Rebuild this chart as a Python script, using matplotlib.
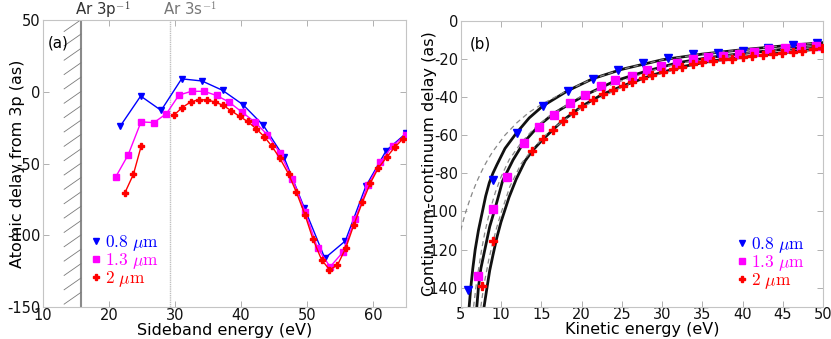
import numpy as np
import matplotlib
matplotlib.use("Agg")
import matplotlib.pyplot as plt
from matplotlib.lines import Line2D

plt.rcParams['font.family'] = ['DejaVu Sans']
plt.rcParams['mathtext.fontset'] = 'cm'
plt.rcParams['axes.unicode_minus'] = False

# ---------------- Panel (a): atomic delay vs sideband energy ----------------
a_blue_E = [21.7, 24.8, 27.9, 31.0, 34.1, 37.2, 40.3, 43.4, 46.5, 49.6, 52.7, 55.8, 58.9, 62.0, 65.0]
a_blue_y = [-24, -3, -13, 9, 7.5, 1, -9, -23.5, -45.5, -81, -116, -104, -66, -41, -29]

a_mag_E = [21.0, 22.9, 24.85, 26.8, 28.7, 30.6, 32.5, 34.4, 36.3, 38.2, 40.15, 42.1,
           44.0, 45.9, 47.8, 49.7, 51.6, 53.5, 55.4, 57.3, 59.2, 61.1, 63.0, 65.0]
a_mag_y = [-59.5, -44, -21, -21.5, -15.3, -2.3, 0.3, 0.3, -2.6, -7.2, -14.2, -21.1,
           -30, -42.7, -60.7, -83.5, -109, -122, -112, -88.6, -65.3, -49.3, -37.5, -30]

a_red_E1 = [22.4, 23.7, 24.9]
a_red_y1 = [-70.5, -57.5, -37.5]
a_red_E2 = [29.9, 31.1, 32.4, 33.6, 34.8, 36.1, 37.3, 38.5, 39.8, 41.0, 42.3, 43.5, 44.7, 45.9,
            47.2, 48.4, 49.7, 50.9, 52.2, 53.4, 54.6, 55.9, 57.1, 58.4, 59.6, 60.8, 62.1, 63.3, 64.5]
a_red_y2 = [-16, -11, -7, -5.6, -5.6, -7.2, -9.5, -13.2, -17.2, -20.7, -25.8, -31.2, -38.1, -46.5,
            -57.2, -70.2, -85.8, -102.7, -117, -124, -121, -108.6, -92.7, -76.9, -63.7, -53.2, -45.5, -38.6, -33]

ip_3p = 15.76
ip_3s = 29.24

# ---------------- Panel (b): continuum-continuum delay ----------------
b_blue_E = [5.9, 9.0, 12.0, 15.2, 18.3, 21.4, 24.5, 27.6, 30.7, 33.8, 36.9, 40.0, 43.1, 46.2, 49.2]
b_blue_y = [-141.5, -83.5, -59, -44.7, -36.7, -30.4, -25.9, -22.3, -19.7, -17.6, -16.8, -15.7, -14.2, -12.7, -11.5]

b_mag_E = [7.1, 9.0, 10.8, 12.8, 14.75, 16.6, 18.6, 20.4, 22.4, 24.2, 26.2, 28.1, 29.9, 31.9,
           33.8, 35.7, 37.6, 39.5, 41.4, 43.3, 45.2, 47.2, 49.1]
b_mag_y = [-133.7, -98.9, -81.8, -64, -55.6, -49.4, -43.3, -39.1, -34.2, -31.1, -29, -25.9, -23.8, -22.0,
           -20.2, -18.9, -18.4, -17.6, -16.3, -15.0, -14.5, -13.9, -13.3]

b_red_E = [7.7, 9.0, 13.9, 15.2, 16.4, 17.65, 18.9, 20.1, 21.4, 22.6, 23.9, 25.1, 26.3, 27.6, 28.8,
           30.1, 31.3, 32.5, 33.8, 35.0, 36.3, 37.5, 38.7, 40.0, 41.2, 42.5, 43.7, 44.9, 46.2, 47.4, 48.7, 49.9]
b_red_y = [-139, -115.5, -68.2, -62.2, -57.3, -52.4, -48.6, -44.7, -41.6, -38.6, -36.3, -34.2, -32.0, -30.2, -28.5,
           -26.7, -25.3, -24.1, -22.9, -21.8, -21.0, -20.2, -20.1, -19.2, -18.5, -18.0, -17.5, -16.8, -16.3, -15.7, -15.0, -14.5]

# theory curves (solid black)
cc_blue_E = [6.05, 6.25, 6.5, 6.8, 7.2, 7.7, 8.1, 8.55, 9.0, 9.5, 10.5, 11.9, 13.5, 15.2, 18.3, 21.4, 25, 30, 35, 40, 45, 50]
cc_blue_y = [-150, -140, -130, -120, -110, -100, -92, -85, -80, -75.5, -67, -59, -51, -44.7, -36.7, -30.4, -25.5, -20.5, -17.5, -15.2, -13.2, -11.5]
cc_mag_E = [7.0, 7.2, 7.5, 8.0, 8.6, 9.3, 10.2, 11.5, 12.8, 14.7, 16.6, 18.6, 20.4, 24.2, 28, 32, 36, 40, 45, 50]
cc_mag_y = [-150, -140, -130, -120, -108, -98, -84, -73, -64, -55, -48.5, -43.5, -39.1, -31.5, -26.5, -22, -19.2, -17.2, -15, -13]
cc_red_E = [7.9, 8.3, 8.6, 9.0, 9.5, 10.0, 11.0, 11.9, 13.0, 13.9, 15.2, 17.65, 20.1, 22.6, 25.1, 28.8, 32.5, 36.3, 40, 45, 50]
cc_red_y = [-150, -139, -131, -123, -113.5, -105.6, -92.6, -83, -73.5, -68.2, -62.2, -52.4, -44.7, -38.6, -34.2, -28.5, -24.1, -21, -19.2, -16.8, -14.5]

# theory curves (dashed grey)
d1_E = [5.0, 5.5, 6.0, 6.5, 7.0, 7.5, 8.0, 8.4, 9.0, 10.5, 12.0, 13.5, 15.2, 18.3, 21.4, 25, 30, 35, 40, 45, 50]
d1_y = [-110, -102, -95.5, -89.6, -84.4, -79.8, -75.6, -72.6, -68.5, -60, -53.4, -48, -43.5, -36.5, -30.4, -25.5, -20.5, -17.5, -15.2, -13.2, -11.5]
d2_E = [6.6, 6.8, 7.0, 7.3, 7.6, 8.0, 8.6, 9.3, 10.0, 11.0, 12.5, 14.0, 16.0, 20.0, 25, 30, 35, 40, 45, 50]
d2_y = [-150, -143, -136, -128, -120, -111, -100, -90, -82, -73, -64, -57, -50, -39.5, -31.5, -24.5, -20, -17.2, -15, -13]
d3_E = [7.5, 7.8, 8.0, 8.5, 9.0, 9.5, 10.0, 11.1, 12.5, 14.0, 16.0, 20.0, 25, 30, 35, 40, 45, 50]
d3_y = [-150, -141, -136, -125, -116, -108, -101, -87, -75, -67, -58, -45.5, -34.8, -27.5, -22.5, -19.5, -17, -14.8]

labels = ['$0.8\\ \\mu\\mathrm{m}$', '$1.3\\ \\mu\\mathrm{m}$', '$2\\ \\mu\\mathrm{m}$']
BLUE, MAG, RED = '#0000ff', '#ff00ff', '#ff0000'

fig = plt.figure(figsize=(8.31, 3.39), dpi=100)
axa = fig.add_axes([43/831, 1-307/339, (406-43)/831, (307-20)/339])
axb = fig.add_axes([460.7/831, 1-306.7/339, (823.3-460.7)/831, (306.7-20.7)/339])

def style(ax):
    for s in ax.spines.values():
        s.set_color('#c4c4c4')
        s.set_linewidth(0.8)
    ax.tick_params(direction='in', length=4, width=0.7, color='#b0b0b0',
                   labelsize=10.5, labelcolor='#111111', top=True, right=True)
    ax.tick_params(axis='x', pad=0.5)
    ax.tick_params(axis='y', pad=2)

# ---- (a)
style(axa)
axa.set_xlim(10, 65)
axa.set_ylim(-150, 50)
axa.set_xticks([10, 20, 30, 40, 50, 60])
axa.set_yticks([50, 0, -50, -100, -150])
axa.axvline(ip_3p, color='#8a8a8a', lw=1.5, zorder=1)
axa.axvline(ip_3s, color='#c0c0c0', lw=1.0, ls=(0, (1, 0.6)), zorder=1)
for y0 in np.arange(-148, 50, 10):
    axa.plot([13.2, ip_3p], [y0, y0 + 8.2], color='#7a7a7a', lw=0.6, clip_on=True, zorder=1)
axa.text(14.85, 53.1, 'Ar 3p$^{-1}$', color='#333333', fontsize=10.8, ha='left', va='baseline',
         clip_on=False)
axa.text(28.2, 53.1, 'Ar 3s$^{-1}$', color='#777777', fontsize=10.8, ha='left', va='baseline',
         clip_on=False)
axa.text(0.014, 0.945, '(a)', transform=axa.transAxes, fontsize=10.8, va='top', ha='left')

axa.plot(a_blue_E, a_blue_y, color=BLUE, lw=1.0, marker='v', ms=5, zorder=3)
axa.plot(a_mag_E, a_mag_y, color=MAG, lw=1.0, marker='s', ms=5, zorder=3)
axa.plot(a_red_E1, a_red_y1, color=RED, lw=1.0, marker='P', ms=5, zorder=4)
axa.plot(a_red_E2, a_red_y2, color=RED, lw=1.0, marker='P', ms=5, zorder=4)
axa.set_xlabel('Sideband energy (eV)', fontsize=11.5, labelpad=0)
axa.set_ylabel('Atomic delay from 3p (as)', fontsize=11.5)
axa.yaxis.set_label_coords(-0.05, 0.5)

handles = [Line2D([], [], ls='none', marker='v', ms=5, color=BLUE),
           Line2D([], [], ls='none', marker='s', ms=5, color=MAG),
           Line2D([], [], ls='none', marker='P', ms=5, color=RED)]

def add_legend(ax, x, y):
    ax.legend(handles, labels, loc='center left', bbox_to_anchor=(x, y), frameon=False,
              fontsize=12.5, handlelength=0.5, handletextpad=0.25, labelspacing=-0.1,
              borderpad=0, borderaxespad=0, labelcolor=[BLUE, MAG, RED])

add_legend(axa, 0.135, 0.16)

# ---- (b)
style(axb)
axb.set_xlim(5, 50)
axb.set_ylim(-150, 0)
axb.set_xticks(np.arange(5, 51, 5))
axb.set_yticks(np.arange(0, -141, -20))
for E, y in [(cc_blue_E, cc_blue_y), (cc_mag_E, cc_mag_y), (cc_red_E, cc_red_y)]:
    axb.plot(E, y, color='#111111', lw=2.0, zorder=2)
for E, y in [(d1_E, d1_y), (d2_E, d2_y), (d3_E, d3_y)]:
    axb.plot(E, y, color='#888888', lw=0.9, ls=(0, (4, 3)), zorder=3)
axb.plot(b_blue_E, b_blue_y, ls='none', marker='v', ms=5.5, color=BLUE, zorder=4)
axb.plot(b_mag_E, b_mag_y, ls='none', marker='s', ms=6, color=MAG, zorder=4)
axb.plot(b_red_E, b_red_y, ls='none', marker='P', ms=5.5, color=RED, zorder=4)
axb.text(0.025, 0.945, '(b)', transform=axb.transAxes, fontsize=10.8, va='top', ha='left')
axb.set_xlabel('Kinetic energy (eV)', fontsize=11.5, labelpad=0)
axb.set_ylabel('Continuum-continuum delay (as)', fontsize=11.5)
axb.yaxis.set_label_coords(-0.065, 0.5)
add_legend(axb, 0.765, 0.153)

fig.savefig('out.png', dpi=100)
